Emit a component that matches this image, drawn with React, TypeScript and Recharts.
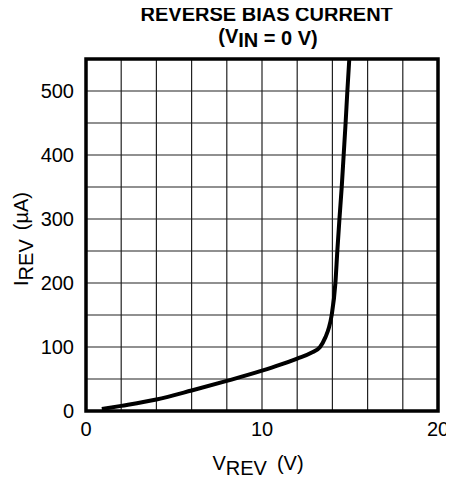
import React from 'react';
import {
  LineChart,
  Line,
  XAxis,
  YAxis,
  CartesianGrid,
  ReferenceArea,
  Label,
} from 'recharts';

const vRev = [0.9, 2, 4, 6, 8, 10, 11, 12, 12.8, 13.3, 13.6, 13.8, 13.96, 14.17, 14.28, 14.4, 14.53, 14.64, 14.75, 14.85, 14.96];
const iRev = [3, 8, 18, 32, 47, 63, 72, 82, 91, 100, 115, 130, 150, 200, 250, 300, 350, 400, 450, 500, 550];

const xLabeledTicks = [0, 10, 20];
const yLabeledTicks = [0, 100, 200, 300, 400, 500];
const xGridTicks = [0, 2, 4, 6, 8, 10, 12, 14, 16, 18, 20];
const yGridTicks = [0, 50, 100, 150, 200, 250, 300, 350, 400, 450, 500, 550];

const titleLine1 = 'REVERSE BIAS CURRENT';
const titleLine2a = '(V';
const titleLine2Sub = 'IN';
const titleLine2b = ' = 0 V)';
const xLabelMain = 'V';
const xLabelSub = 'REV';
const xLabelUnit = '(V)';
const yLabelMain = 'I';
const yLabelSub = 'REV';
const yLabelUnit = '(\u00B5A)';

const data = vRev.map((v, k) => ({ v, i: iRev[k] }));

const FONT = '"Liberation Sans", Arial, Helvetica, sans-serif';

const XLabel = (props: any) => {
  const vb = props.viewBox || {};
  const cx = vb.x + vb.width / 2 - 4;
  const y = vb.y + 59;
  return (
    <text x={cx} y={y} textAnchor="middle" fontFamily={FONT} fontSize={20} fill="#000">
      <tspan>{xLabelMain}</tspan>
      <tspan dy={5}>{xLabelSub}</tspan>
      <tspan dy={-5} dx={10}>{xLabelUnit}</tspan>
    </text>
  );
};

const YLabel = (props: any) => {
  const vb = props.viewBox || {};
  const x = 20;
  const cy = vb.y + vb.height / 2 + 4;
  return (
    <text
      x={x}
      y={cy}
      textAnchor="middle"
      fontFamily={FONT}
      fontSize={20}
      fill="#000"
      transform={`rotate(-90, ${x}, ${cy})`}
    >
      <tspan>{yLabelMain}</tspan>
      <tspan dy={5}>{yLabelSub}</tspan>
      <tspan dy={-5} dx={9}>{yLabelUnit}</tspan>
    </text>
  );
};

const fmtX = (v: number) => (xLabeledTicks.includes(v) ? String(v) : '');
const fmtY = (v: number) => (yLabeledTicks.includes(v) ? String(v) : '');

export default function App() {
  return (
    <div style={{ position: 'relative', width: 446, height: 473 }}>
      <LineChart
        width={446}
        height={473}
        data={data}
        margin={{ top: 51, right: 16, bottom: 10, left: 0 }}
      >
        <CartesianGrid stroke="#222" strokeWidth={1.2} />
        <XAxis
          dataKey="v"
          type="number"
          domain={[0, 20]}
          ticks={xGridTicks}
          tickFormatter={fmtX}
          axisLine={false}
          tickLine={false}
          tickMargin={5}
          height={60}
          tick={{ fill: '#000', fontSize: 20, fontFamily: FONT }}
          interval={0}
        >
          <Label content={XLabel} />
        </XAxis>
        <YAxis
          type="number"
          domain={[0, 550]}
          ticks={yGridTicks}
          tickFormatter={fmtY}
          axisLine={false}
          tickLine={false}
          tickMargin={6}
          width={78}
          tick={{ fill: '#000', fontSize: 20, fontFamily: FONT }}
          interval={0}
        >
          <Label content={YLabel} />
        </YAxis>
        <Line
          type="monotone"
          dataKey="i"
          stroke="#000"
          strokeWidth={4}
          dot={false}
          isAnimationActive={false}
        />
        <ReferenceArea
          x1={0}
          x2={20}
          y1={0}
          y2={550}
          fill="none"
          fillOpacity={0}
          stroke="#000"
          strokeWidth={3.5}
        />
      </LineChart>
      <svg
        width={454}
        height={56}
        style={{ position: 'absolute', left: -8, top: -8, pointerEvents: 'none' }}
      >
        <text x={266.7} y={20.7} textAnchor="middle" fontFamily={FONT} fontSize={20} fontWeight="bold" fill="#000">
          {titleLine1}
        </text>
        <text x={268} y={43} textAnchor="middle" fontFamily={FONT} fontSize={20} fontWeight="bold" fill="#000">
          <tspan>{titleLine2a}</tspan>
          <tspan dy={4}>{titleLine2Sub}</tspan>
          <tspan dy={-2}>{titleLine2b}</tspan>
        </text>
      </svg>
    </div>
  );
}
